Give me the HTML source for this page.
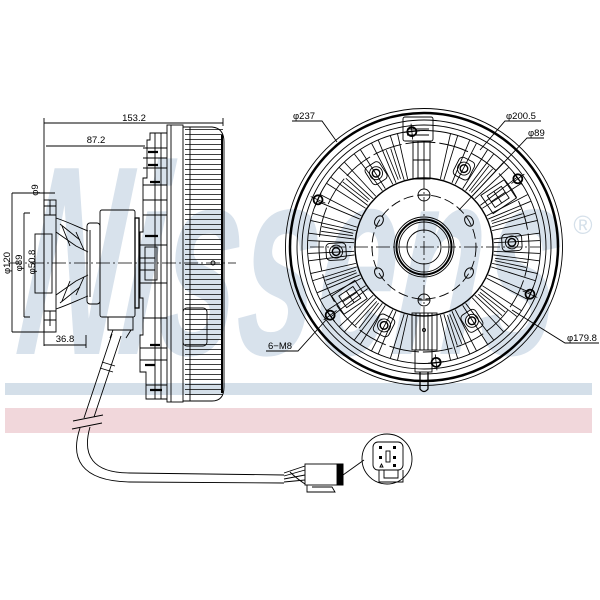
<!DOCTYPE html>
<html><head><meta charset="utf-8"><style>
html,body{margin:0;padding:0;background:#fff;}
svg{display:block;}
text{font-family:"Liberation Sans",sans-serif;}
</style></head><body>
<svg width="600" height="600" viewBox="0 0 600 600" xmlns="http://www.w3.org/2000/svg">
<defs>
<pattern id="fl" x="185" y="129" width="40" height="5" patternUnits="userSpaceOnUse">
<line x1="0" y1="0.5" x2="40" y2="0.5" stroke="#000" stroke-width="0.8"/>
</pattern>
<g id="fin" fill="none" stroke="#000" stroke-width="0.85">
<path d="M494,245.2 L540,243.3 M494,248.8 L540,250.7"/>
</g>
<g id="fin2" fill="none" stroke="#000" stroke-width="0.8">
<path d="M496,245.8 L528,244.6 M496,248.2 L528,249.4"/>
</g>
<g id="bolt" fill="none" stroke="#000" stroke-width="0.9">
<rect x="502" y="238.5" width="20" height="17" rx="4"/>
<circle cx="512" cy="247" r="6.5"/>
<circle cx="512" cy="247" r="3.8" stroke-width="1.4"/>
</g>
<g id="m8" fill="none" stroke="#000">
<circle cx="540" cy="247" r="4.5" stroke-width="1.8"/>
<path d="M532,247 H548 M540,239 V255" stroke-width="0.8"/>
</g>
<g id="box" fill="none" stroke="#000" stroke-width="0.9">
<rect x="500" y="236" width="28" height="22"/>
<rect x="505" y="240" width="17" height="14"/>
<path d="M513,240 V254 M505,247 H522"/>
</g>
<g id="hole" fill="none" stroke="#000" stroke-width="1">
<ellipse cx="476" cy="247" rx="4" ry="5.5"/>
</g>
</defs>

<!-- watermark -->
<g transform="skewX(-6)">
<text x="51" y="354" font-weight="bold" font-style="italic" font-size="270" fill="#d8e2ec" textLength="540" lengthAdjust="spacingAndGlyphs">Nissens</text>
</g>
<text x="583" y="234" font-size="26" fill="#d5e0ea" text-anchor="middle">®</text>

<!-- bars -->
<rect x="5" y="383" width="587" height="12" fill="#d4dfe9"/>
<rect x="5" y="408" width="587" height="25" fill="#f1d7db"/>

<g fill="none" stroke="#000" stroke-width="0.9">
<!-- ===== SIDE VIEW ===== -->
<path d="M44,118 V346 M44,123 H223 M223,118 V126"/>
<path d="M46,146 H145"/>
<path d="M12,193 V332 M12,193 H55 M12,332 H55"/>
<path d="M24,213 V317 M24,213 H30 M24,317 H30"/>
<path d="M44,345 H86 M86,335 V348"/>
<path d="M8,263 H236" stroke-dasharray="14,3,2,3" stroke-width="0.8"/>
<circle cx="213" cy="263" r="2"/>

<!-- flange -->
<rect x="44" y="200" width="12" height="132"/>
<path d="M44,206 H56 M44,215 H56 M44,311 H56 M44,320 H56 M50,200 V215 M50,311 V326"/>
<rect x="35" y="234" width="17" height="59"/>
<path d="M44,234 V293"/>
<path d="M56,218 C68,222 78,227 88,231 M56,309 C68,305 78,300 88,296"/>
<path d="M56,232 L76,246 L88,252 M56,295 L76,281 L88,275 M60,224 L80,240 M60,303 L80,287"/>
<path d="M62,226 L70,246 M62,301 L70,281 M76,232 L84,250 M76,295 L84,277"/>
<rect x="87" y="223" width="13" height="81" rx="3"/>
<path d="M90,230 V297"/>
<rect x="100" y="210" width="35" height="107" rx="2"/>
<rect x="135" y="218" width="4" height="90" stroke-width="1.3"/>

<!-- body steps -->
<path d="M167,133 H150 V140 H147 V178 H143 V232 H140 V298 H143 V335 H140 V372 H146 V399 H167"/>
<path d="M155,133 V399 M161,133 V399"/>
<path d="M143,148 H167 M143,158 H167 M143,168 H167 M143,185 H167 M143,200 H167 M143,215 H167 M140,245 H167 M140,258 H155 M140,270 H155 M140,283 H167 M143,318 H167 M140,348 H167 M140,360 H167 M146,385 H167"/>
<rect x="145" y="247" width="12" height="33"/>
<path d="M148,152 H158 M148,165 H158 M150,182 H160 M145,236 H158 M150,345 H160 M145,365 H155 M150,390 H162" stroke-width="2.2"/>
<rect x="167" y="125" width="16" height="277"/>
<path d="M171,125 V402"/>
<rect x="185" y="129" width="38" height="270" fill="url(#fl)" stroke="none"/>
<path d="M183,127 H212 Q224,128 224,142 V387 Q224,401 212,401 H183"/>
<path d="M222,135 V393" stroke-width="2"/>
<path d="M190,127 V401"/>
<rect x="183" y="308" width="24" height="38" rx="4"/>

<!-- sensor + cable -->
<path d="M108,317 H133 V330 H108 Z M113,330 L110,338 M131,330 L126,338"/>
<path d="M112,334 L84,418 M121,336 L94,417"/>
<path d="M102,362 L115,366 M100,368 L113,372"/>
<path d="M73,421 L103,415 M72,429 L102,423"/>
<path d="M80,428 C70,458 80,481 130,482 L284,483"/>
<path d="M90,427 C82,455 92,473 130,473 L284,475"/>
<path d="M284,473 L305,466 M284,476 L305,470 M284,479 L305,475 M284,482 L305,480 M290,472 Q296,478 305,484"/>
<rect x="305" y="464" width="38" height="21"/>
<rect x="337" y="464" width="6" height="21" fill="#000"/>
<path d="M307,485 V492 H335 L332,487 H312"/>
<path d="M343,475 L364,460"/>
<circle cx="387" cy="459" r="25"/>
<rect x="373" y="442" width="30" height="28" rx="5"/>
<path d="M379,470 V482 H403 V470 M384,470 V478 H398 V470"/>
<rect x="386" y="451" width="4" height="11"/>
<g fill="#000" stroke="none">
<rect x="379" y="446" width="3" height="3"/><rect x="393" y="446" width="3" height="3"/>
<rect x="379" y="456" width="3" height="3"/><rect x="393" y="456" width="3" height="3"/>
<rect x="393" y="464" width="3" height="3"/>
</g>
<path d="M380,467 l1.5,-3 l1.5,3 z"/>

<!-- ===== FRONT VIEW ===== -->
<circle cx="424" cy="247" r="138.5"/>
<circle cx="424" cy="247" r="134" stroke-width="2.5"/>
<circle cx="424" cy="247" r="127"/>
<circle cx="424" cy="247" r="122"/>
<circle cx="424" cy="247" r="116.5"/>
<circle cx="424" cy="247" r="105" stroke-dasharray="30,4"/>
<circle cx="424" cy="247" r="69" stroke-width="1.4"/>
<circle cx="424" cy="247" r="52" stroke-dasharray="10,4"/>
<!-- fins -->
<use href="#fin" transform="rotate(5 424 247)"/>
<use href="#fin" transform="rotate(15 424 247)"/>
<use href="#fin" transform="rotate(25 424 247)"/>
<use href="#fin" transform="rotate(35 424 247)"/>
<use href="#fin" transform="rotate(45 424 247)"/>
<use href="#fin" transform="rotate(55 424 247)"/>
<use href="#fin" transform="rotate(65 424 247)"/>
<use href="#fin" transform="rotate(75 424 247)"/>
<use href="#fin" transform="rotate(105 424 247)"/>
<use href="#fin" transform="rotate(115 424 247)"/>
<use href="#fin" transform="rotate(125 424 247)"/>
<use href="#fin" transform="rotate(135 424 247)"/>
<use href="#fin" transform="rotate(145 424 247)"/>
<use href="#fin" transform="rotate(155 424 247)"/>
<use href="#fin" transform="rotate(165 424 247)"/>
<use href="#fin" transform="rotate(175 424 247)"/>
<use href="#fin" transform="rotate(185 424 247)"/>
<use href="#fin" transform="rotate(195 424 247)"/>
<use href="#fin" transform="rotate(205 424 247)"/>
<use href="#fin" transform="rotate(215 424 247)"/>
<use href="#fin" transform="rotate(225 424 247)"/>
<use href="#fin" transform="rotate(235 424 247)"/>
<use href="#fin" transform="rotate(245 424 247)"/>
<use href="#fin" transform="rotate(255 424 247)"/>
<use href="#fin" transform="rotate(285 424 247)"/>
<use href="#fin" transform="rotate(295 424 247)"/>
<use href="#fin" transform="rotate(305 424 247)"/>
<use href="#fin" transform="rotate(315 424 247)"/>
<use href="#fin" transform="rotate(325 424 247)"/>
<use href="#fin" transform="rotate(335 424 247)"/>
<use href="#fin" transform="rotate(345 424 247)"/>
<use href="#fin" transform="rotate(355 424 247)"/>
<use href="#fin2" transform="rotate(10 424 247)"/>
<use href="#fin2" transform="rotate(40 424 247)"/>
<use href="#fin2" transform="rotate(70 424 247)"/>
<use href="#fin2" transform="rotate(130 424 247)"/>
<use href="#fin2" transform="rotate(160 424 247)"/>
<use href="#fin2" transform="rotate(190 424 247)"/>
<use href="#fin2" transform="rotate(220 424 247)"/>
<use href="#fin2" transform="rotate(250 424 247)"/>
<use href="#fin2" transform="rotate(310 424 247)"/>
<use href="#fin2" transform="rotate(340 424 247)"/>
<!-- boxes -->
<use href="#box" transform="rotate(-34 424 247)"/>
<use href="#box" transform="rotate(146 424 247)"/>
<!-- bolt heads -->
<use href="#bolt" transform="rotate(-3 424 247)"/>
<use href="#bolt" transform="rotate(57 424 247)"/>
<use href="#bolt" transform="rotate(117 424 247)"/>
<use href="#bolt" transform="rotate(177 424 247)"/>
<use href="#bolt" transform="rotate(237 424 247)"/>
<use href="#bolt" transform="rotate(297 424 247)"/>
<!-- top bracket -->
<rect x="403" y="117" width="30" height="24" rx="2"/>
<path d="M407,129 H429 M407,135 H429"/>
<rect x="413" y="141" width="17" height="38"/>
<path d="M418,141 V179 M424,141 V179 M413,160 H430"/>
<!-- bottom bracket -->
<rect x="412" y="313" width="25" height="37"/>
<path d="M416,313 V350 M420,313 V350 M424,313 V350 M428,313 V350 M432,313 V350"/>
<rect x="415" y="350" width="17" height="22"/>
<path d="M420,372 V389 Q424,394 428,389 V372" stroke-width="1.3"/>
<circle cx="424" cy="330" r="1.5"/>
<!-- M8 holes -->
<use href="#m8" transform="rotate(24 424 247)"/>
<use href="#m8" transform="rotate(84 424 247)"/>
<use href="#m8" transform="rotate(144 424 247)"/>
<use href="#m8" transform="rotate(204 424 247)"/>
<use href="#m8" transform="rotate(264 424 247)"/>
<use href="#m8" transform="rotate(324 424 247)"/>
<!-- bolt circle holes -->
<circle cx="424" cy="195" r="6"/>
<circle cx="424" cy="300" r="6"/>
<path d="M418,195 H430 M418,300 H430"/>
<use href="#hole" transform="rotate(-30 424 247)"/>
<use href="#hole" transform="rotate(30 424 247)"/>
<use href="#hole" transform="rotate(150 424 247)"/>
<use href="#hole" transform="rotate(210 424 247)"/>
<!-- center boss -->
<circle cx="424" cy="247" r="30"/>
<circle cx="424" cy="247" r="27.5" stroke-width="2"/>
<circle cx="424" cy="247" r="25"/>
<circle cx="424" cy="247" r="17"/>
<path d="M310,247 H540 M424,175 V316" stroke-dasharray="14,3,2,3" stroke-width="0.8"/>
<!-- leaders -->
<path d="M292,121 H322 L337,142"/>
<path d="M541,121 H505 L480,150"/>
<path d="M544,138 H527 L459,210"/>
<path d="M599,343 H565 L512,310"/>
<path d="M266,351 H298 L326,320"/>
</g>

<g font-size="9.5" fill="#000">
<text x="134" y="121" text-anchor="middle">153.2</text>
<text x="96" y="143" text-anchor="middle">87.2</text>
<text x="65" y="342" text-anchor="middle">36.8</text>
<text x="10" y="263" text-anchor="middle" transform="rotate(-90 10 263)">φ120</text>
<text x="22" y="263" text-anchor="middle" transform="rotate(-90 22 263)">φ89</text>
<text x="35" y="262" text-anchor="middle" transform="rotate(-90 35 262)">φ50.8</text>
<text x="38" y="190" text-anchor="middle" transform="rotate(-90 38 190)">φ9</text>
<text x="293" y="119">φ237</text>
<text x="506" y="119">φ200.5</text>
<text x="528" y="136">φ89</text>
<text x="567" y="341">φ179.8</text>
<text x="268" y="349">6−M8</text>
</g>
</svg>
</body></html>
